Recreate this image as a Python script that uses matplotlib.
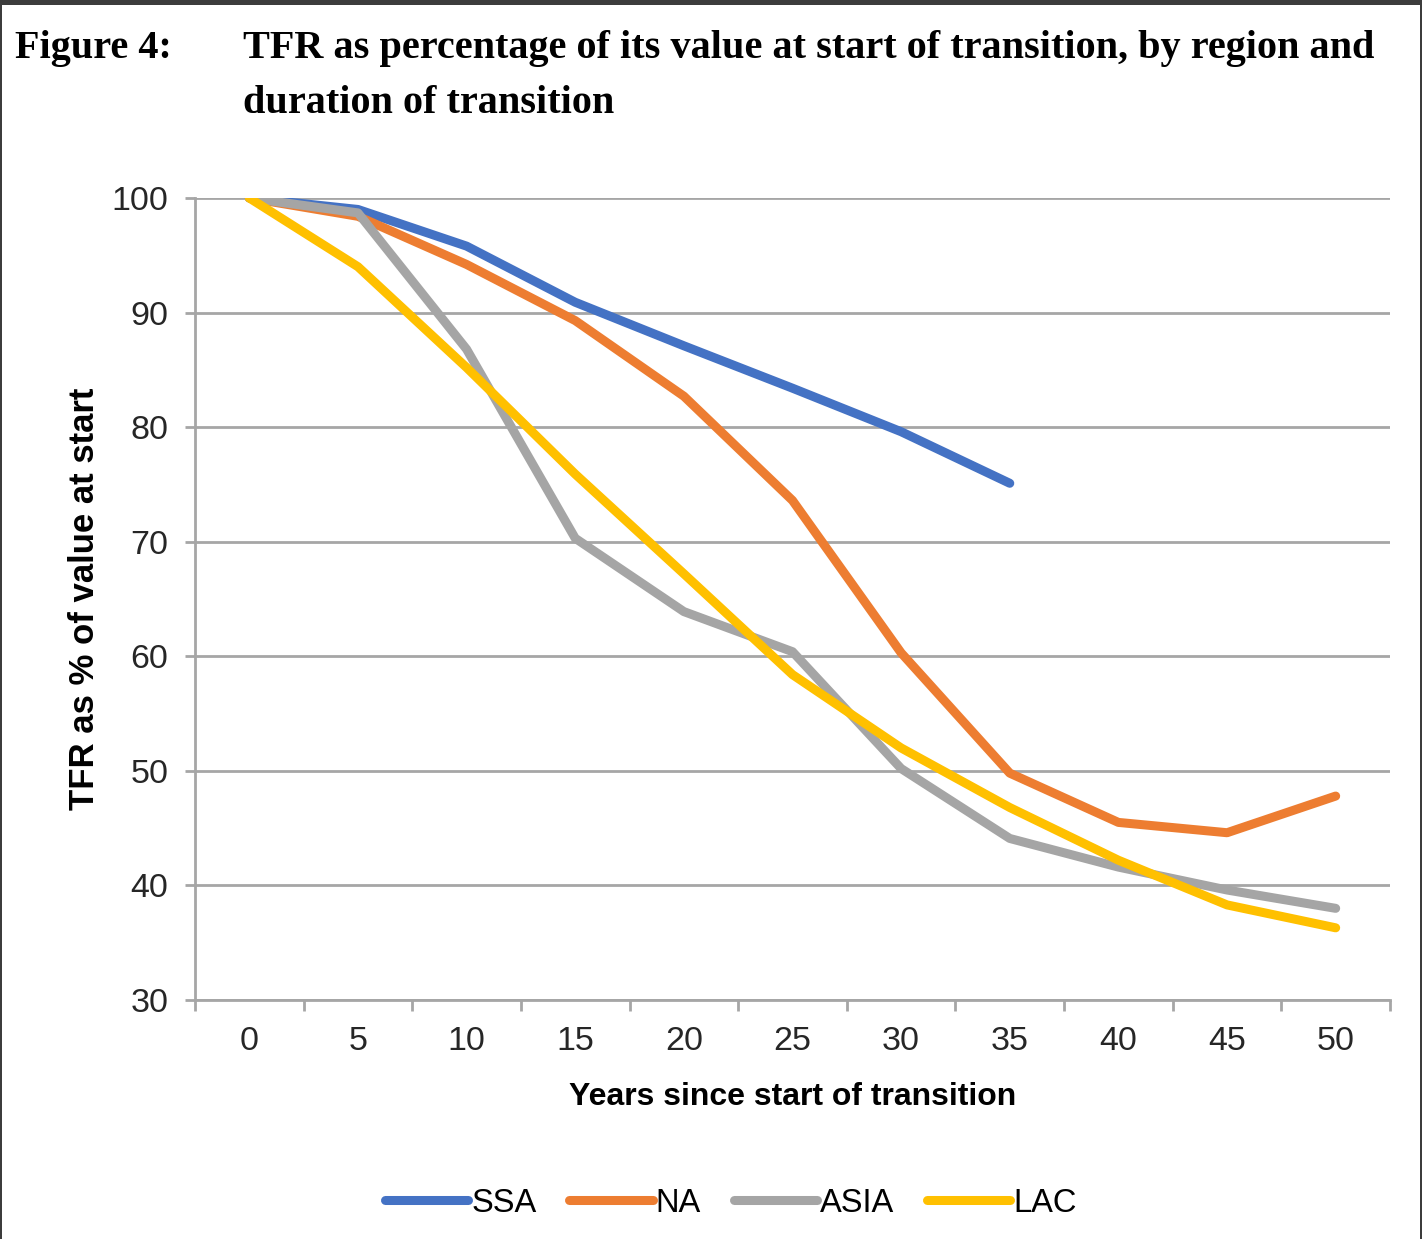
import matplotlib
matplotlib.use("Agg")
import matplotlib.pyplot as plt
from matplotlib.patches import Rectangle

years = [0, 5, 10, 15, 20, 25, 30, 35, 40, 45, 50]
ssa = [100, 99.0, 95.8, 90.9, 87.1, 83.4, 79.6, 75.1]
na = [100, 98.4, 94.2, 89.3, 82.7, 73.6, 60.3, 49.8, 45.5, 44.6, 47.8]
asia = [100, 98.7, 86.8, 70.3, 63.9, 60.4, 50.2, 44.1, 41.6, 39.6, 38.0]
lac = [100, 94.0, 85.2, 75.9, 67.2, 58.4, 52.0, 46.8, 42.2, 38.3, 36.3]
series_names = ["SSA", "NA", "ASIA", "LAC"]
colors = ["#4472C4", "#ED7D31", "#A5A5A5", "#FFC000"]
yticks = [30, 40, 50, 60, 70, 80, 90, 100]

W, H = 1422, 1239
fig = plt.figure(figsize=(W / 100, H / 100), dpi=100)
fig.patch.set_facecolor("white")

# dark screenshot frame
fig.patches.append(Rectangle((0, 1 - 5 / H), 1, 5 / H, transform=fig.transFigure,
                             facecolor="#3c3c3c", edgecolor="none", zorder=0))
fig.patches.append(Rectangle((0, 0), 2 / W, 1, transform=fig.transFigure,
                             facecolor="#3c3c3c", edgecolor="none", zorder=0))
fig.patches.append(Rectangle((1 - 2 / W, 0), 2 / W, 1, transform=fig.transFigure,
                             facecolor="#3c3c3c", edgecolor="none", zorder=0))

ax = fig.add_axes([195 / W, 1 - 1000 / H, (1390 - 195) / W, (1000 - 198) / H])

x_idx = list(range(len(years)))
for name, vals, c in zip(series_names, [ssa, na, asia, lac], colors):
    ax.plot(x_idx[:len(vals)], vals, color=c, lw=6.5, label=name,
            solid_capstyle="round", solid_joinstyle="round", zorder=3)

ax.set_xlim(-0.5, len(years) - 0.5)
ax.set_ylim(30, 100)
ax.set_yticks(yticks)
ax.set_xticks(x_idx)
ax.set_xticklabels([str(y) for y in years])
ax.set_xticks([i - 0.5 for i in range(len(years) + 1)], minor=True)

grid_c = "#A6A6A6"
ax.yaxis.grid(True, color=grid_c, lw=2, zorder=1)
ax.set_axisbelow(True)
for s in ["top", "right"]:
    ax.spines[s].set_visible(False)
for s in ["left", "bottom"]:
    ax.spines[s].set_color(grid_c)
    ax.spines[s].set_linewidth(2)

ax.tick_params(axis="x", which="major", length=0, pad=19, labelsize=24.5,
               labelcolor="#262626")
ax.tick_params(axis="x", which="minor", length=8, width=2, color=grid_c)
ax.tick_params(axis="y", length=7, width=2, color=grid_c, pad=12, labelsize=24.5,
               labelcolor="#262626")
for lab in ax.get_xticklabels() + ax.get_yticklabels():
    lab.set_family("Liberation Sans")

ax.set_xlabel("Years since start of transition", fontsize=23, fontweight="bold",
              family="Liberation Sans", labelpad=18)
ax.set_ylabel("TFR as % of value at start", fontsize=25, fontweight="bold",
              family="Liberation Sans", labelpad=8)

fig.text(15 / W, 1 - 58 / H, "Figure 4:", fontsize=29, fontweight="bold",
         family="Liberation Serif", va="baseline", ha="left")
fig.text(243 / W, 1 - 58 / H,
         "TFR as percentage of its value at start of transition, by region and",
         fontsize=29, fontweight="bold", family="Liberation Serif",
         va="baseline", ha="left")
fig.text(243 / W, 1 - 113 / H, "duration of transition", fontsize=29,
         fontweight="bold", family="Liberation Serif", va="baseline", ha="left")

handles, labels = ax.get_legend_handles_labels()
leg = fig.legend(handles, labels, loc="center", ncol=4,
                 bbox_to_anchor=(731 / W, 1 - 1203 / H), frameon=False,
                 handlelength=2.55, handletextpad=0.1, columnspacing=1.0,
                 prop={"family": "Liberation Sans", "size": 23.5})

fig.savefig("out.png", dpi=100)
